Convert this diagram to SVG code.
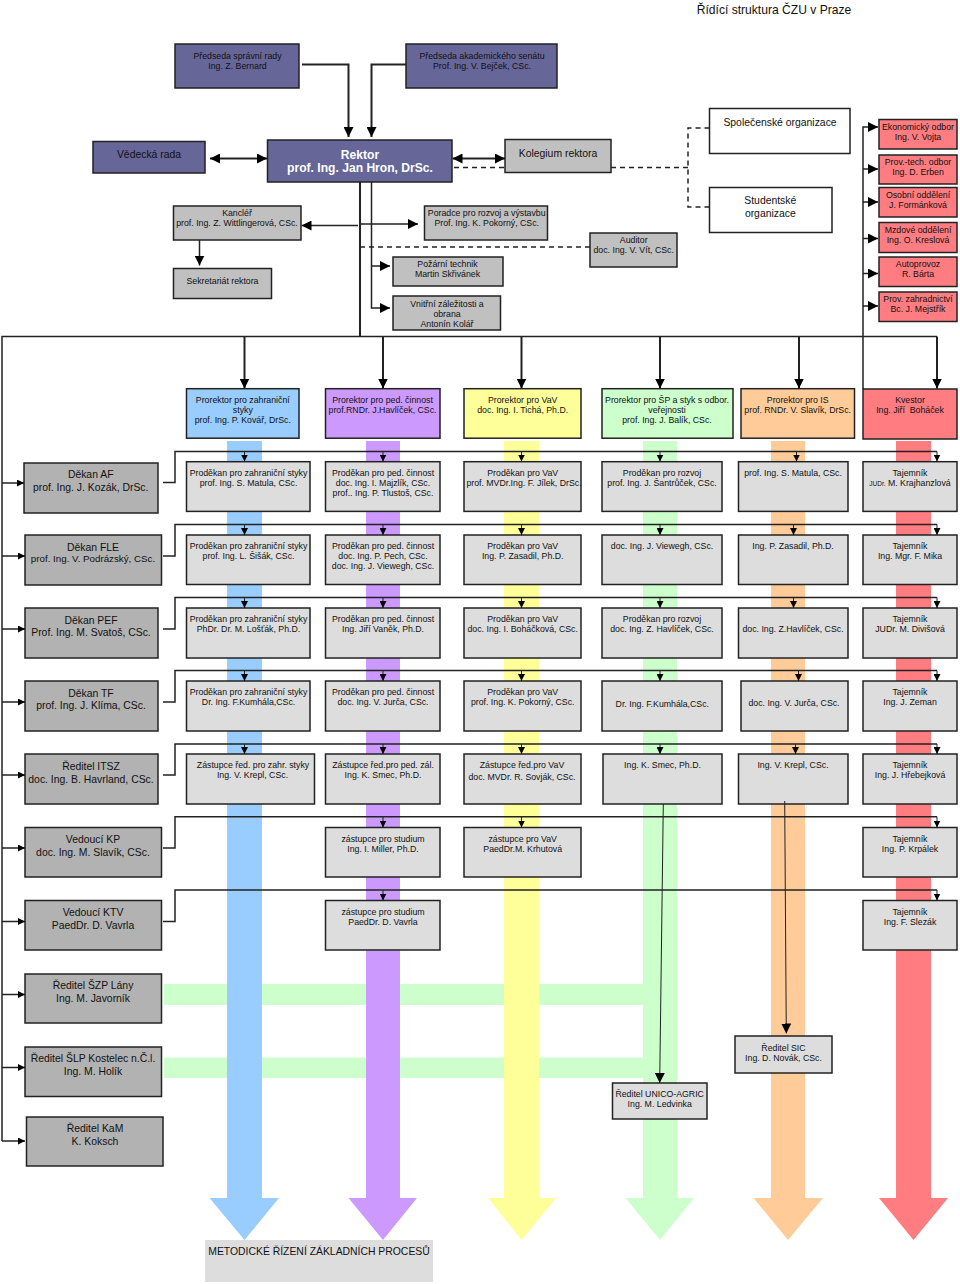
<svg xmlns="http://www.w3.org/2000/svg" width="960" height="1284" viewBox="0 0 960 1284">
<style>
text{font-family:"Liberation Sans",Arial,sans-serif;font-size:8.75px;fill:#111;text-anchor:middle}
.l{font-size:10.4px}
.m{font-size:9.75px}
.t{font-size:12.1px}
.w{font-size:12.1px;font-weight:bold;fill:#fff}
.j{font-size:6.5px}
rect{stroke:#222;stroke-width:1.5}
.navy{fill:#666699}.gray{fill:#c0c0c0}.white{fill:#fff}.red{fill:#ff7c80}.dean{fill:#b2b2b2}.cell{fill:#dddddd}
.blue{fill:#99ccff}.purple{fill:#cc99ff}.yellow{fill:#ffff99}.green{fill:#ccffcc}.orange{fill:#ffcc99}
.plain{fill:#dddddd;stroke:none}
.bar{stroke:none}
#connectors path,#connectors line{fill:none;stroke:#222;stroke-width:1.5}
#connectors .h{stroke-width:2}
#connectors .d{stroke-dasharray:5 4}
#connectors .n{stroke-width:1}
</style>
<defs>
<marker id="a" markerUnits="userSpaceOnUse" markerWidth="10" markerHeight="10" viewBox="0 0 10 10" refX="10" refY="5" orient="auto-start-reverse"><path d="M0 0L10 5L0 10Z" fill="#000"/></marker>
<marker id="s" markerUnits="userSpaceOnUse" markerWidth="7" markerHeight="7" viewBox="0 0 10 10" refX="10" refY="5" orient="auto"><path d="M0 0L10 5L0 10Z" fill="#000"/></marker>
</defs>
<rect width="960" height="1284" style="fill:#fff;stroke:none"/>
<text class="t" x="774" y="14">Řídící struktura ČZU v Praze</text>

<g id="process-bars">
<path class="bar green" d="M164 984H643V1005H164ZM164 1057.500H643V1078H164Z"/>
<path class="bar blue" d="M227 441H262V1198H279L244.500 1240L209.500 1198H227Z"/>
<path class="bar purple" d="M366 441H400V1198H417L383 1240L348.500 1198H366Z"/>
<path class="bar yellow" d="M504 441H539V1198H556L521.500 1240L488 1198H504Z"/>
<path class="bar green" d="M643 441H677V1198H694L660 1240L625.500 1198H643Z"/>
<path class="bar orange" d="M771 441H805V1198H823L788 1240L753.500 1198H771Z"/>
<path class="bar red" d="M896 441H931V1198H948L913.500 1240L879 1198H896Z"/>
</g>

<g id="n-predseda-sr"><rect class="navy" x="175" y="44" width="124" height="44"/><text x="237.500" y="59">Předseda správní rady</text><text x="237.500" y="69">Ing. Z. Bernard</text></g>
<g id="n-predseda-as"><rect class="navy" x="406" y="44" width="151" height="44"/><text x="482" y="59">Předseda akademického senátu</text><text x="482" y="69">Prof. Ing. V. Bejček, CSc.</text></g>
<g id="n-rektor"><rect class="navy" x="267.500" y="140" width="184.500" height="42"/><text class="w" x="360" y="158.700">Rektor</text><text class="w" x="360" y="172">prof. Ing. Jan Hron, DrSc.</text></g>
<g id="n-vedecka"><rect class="navy" x="93" y="141.500" width="112" height="31.500"/><text class="l" x="149" y="158.300">Vědecká rada</text></g>
<g id="n-kolegium"><rect class="gray" x="505" y="139.500" width="106" height="33"/><text class="l" x="558" y="156.700">Kolegium rektora</text></g>
<g id="n-kancler"><rect class="gray" x="173.500" y="206" width="127.500" height="34"/><text x="237" y="216">Kancléř</text><text x="237" y="226.300">prof. Ing. Z. Wittlingerová, CSc.</text></g>
<g id="n-sekretariat"><rect class="gray" x="173.500" y="268.500" width="98" height="30"/><text x="222.500" y="283.700">Sekretariát rektora</text></g>
<g id="n-poradce"><rect class="gray" x="424.500" y="206" width="123" height="34"/><text x="486.700" y="216">Poradce pro rozvoj a výstavbu</text><text x="486.700" y="226.300">Prof. Ing. K. Pokorný, CSc.</text></g>
<g id="n-pozarni"><rect class="gray" x="393" y="257" width="110" height="29"/><text x="447.500" y="267.300">Požární technik</text><text x="447.500" y="277">Martin Skřivánek</text></g>
<g id="n-vnitrni"><rect class="gray" x="393" y="296" width="107.500" height="34"/><text x="447" y="306.700">Vnitřní záležitosti a</text><text x="447" y="316.700">obrana</text><text x="447" y="326.700">Antonín Kolář</text></g>
<g id="n-auditor"><rect class="gray" x="590" y="233" width="87" height="34"/><text x="633.700" y="243.300">Auditor</text><text x="633.700" y="253.300">doc. Ing. V. Vít, CSc.</text></g>
<g id="n-spolecenske"><rect class="white" x="709.500" y="108.500" width="140.500" height="45"/><text class="l" x="780" y="126">Společenské organizace</text></g>
<g id="n-studentske"><rect class="white" x="709.500" y="187.500" width="122.500" height="45"/><text class="l" x="770.300" y="204.300">Studentské</text><text class="l" x="770.300" y="216.700">organizace</text></g>

<g id="n-ekonomicky"><rect class="red" x="879" y="119.500" width="78" height="29.500"/><text x="918" y="130">Ekonomický odbor</text><text x="918" y="140">Ing. V. Vojta</text></g>
<g id="n-provtech"><rect class="red" x="879" y="155" width="78" height="29"/><text x="918" y="165">Prov.-tech. odbor</text><text x="918" y="175">Ing. D. Erben</text></g>
<g id="n-osobni"><rect class="red" x="879" y="187.500" width="78" height="29.500"/><text x="918" y="197.700">Osobní oddělení</text><text x="918" y="207.700">J. Formánková</text></g>
<g id="n-mzdove"><rect class="red" x="879" y="222.500" width="78" height="30"/><text x="918" y="233.300">Mzdové oddělení</text><text x="918" y="243.300">Ing. O. Kreslová</text></g>
<g id="n-autoprovoz"><rect class="red" x="879" y="257" width="78" height="29.500"/><text x="918" y="267.300">Autoprovoz</text><text x="918" y="277.300">R. Bárta</text></g>
<g id="n-zahradnictvi"><rect class="red" x="879" y="292" width="78" height="29.500"/><text x="918" y="302">Prov. zahradnictví</text><text x="918" y="312">Bc. J. Mejstřík</text></g>

<g id="n-pr1"><rect class="blue" x="186.500" y="388.700" width="112.500" height="49.500"/><text x="242.800" y="402.700">Prorektor pro zahraniční</text><text x="242.800" y="412.700">styky</text><text x="242.800" y="422.700">prof. Ing. P. Kovář, DrSc.</text></g>
<g id="n-pr2"><rect class="purple" x="325.500" y="388.700" width="114.500" height="49.500"/><text x="382.500" y="402.700">Prorektor pro ped. činnost</text><text x="382.500" y="412.700">prof.RNDr. J.Havlíček, CSc.</text></g>
<g id="n-pr3"><rect class="yellow" x="464" y="388.700" width="117" height="49.500"/><text x="522.700" y="402.700">Prorektor pro VaV</text><text x="522.700" y="412.700">doc. Ing. I. Tichá, Ph.D.</text></g>
<g id="n-pr4"><rect class="green" x="602" y="388.700" width="131" height="49.500"/><text x="667" y="402.700">Prorektor pro ŠP a styk s odbor.</text><text x="667" y="412.700">veřejnosti</text><text x="667" y="422.700">prof. Ing. J. Balík, CSc.</text></g>
<g id="n-pr5"><rect class="orange" x="741" y="388.700" width="113.500" height="49.500"/><text x="797.700" y="402.700">Prorektor pro IS</text><text x="797.700" y="412.700">prof. RNDr. V. Slavík, DrSc.</text></g>
<g id="n-kvestor"><rect class="red" x="863" y="389" width="94" height="50"/><text x="910" y="402.700">Kvestor</text><text x="910" y="412.700" xml:space="preserve">Ing. Jiří  Boháček</text></g>

<g id="n-af"><rect class="dean" x="24" y="463" width="134" height="50"/><text class="l" x="90.700" y="478.300">Děkan AF</text><text class="l" x="90.700" y="491.300">prof. Ing. J. Kozák, DrSc.</text></g>
<g id="n-fle"><rect class="dean" x="25" y="535" width="136.500" height="50"/><text class="l" x="93" y="550.700">Děkan FLE</text><text class="m" x="93" y="562.300">prof. Ing. V. Podrázský, CSc.</text></g>
<g id="n-pef"><rect class="dean" x="25" y="608" width="133" height="50"/><text class="l" x="91" y="623.700">Děkan PEF</text><text class="l" x="91" y="636">Prof. Ing. M. Svatoš, CSc.</text></g>
<g id="n-tf"><rect class="dean" x="25" y="681" width="133" height="50"/><text class="l" x="91" y="696.700">Děkan TF</text><text class="l" x="91" y="709.300">prof. Ing. J. Klíma, CSc.</text></g>
<g id="n-itsz"><rect class="dean" x="25" y="754" width="133" height="50"/><text class="l" x="91" y="770">Ředitel ITSZ</text><text class="l" x="91" y="782.700">doc. Ing. B. Havrland, CSc.</text></g>
<g id="n-kp"><rect class="dean" x="25" y="827.500" width="136.500" height="49.500"/><text class="l" x="93" y="843">Vedoucí KP</text><text class="l" x="93" y="855.700">doc. Ing. M. Slavík, CSc.</text></g>
<g id="n-ktv"><rect class="dean" x="25" y="900.500" width="136.500" height="49.500"/><text class="l" x="93" y="916">Vedoucí KTV</text><text class="l" x="93" y="928.700">PaedDr. D. Vavrla</text></g>
<g id="n-szp"><rect class="dean" x="25" y="974" width="136.500" height="49"/><text class="l" x="93" y="989.300">Ředitel ŠZP Lány</text><text class="l" x="93" y="1002">Ing. M. Javorník</text></g>
<g id="n-slp"><rect class="dean" x="25" y="1047" width="136.500" height="49.500"/><text class="l" x="93" y="1062.300">Ředitel ŠLP Kostelec n.Č.l.</text><text class="l" x="93" y="1075">Ing. M. Holík</text></g>
<g id="n-kam"><rect class="dean" x="26.500" y="1117" width="136.500" height="49"/><text class="l" x="95" y="1132">Ředitel KaM</text><text class="l" x="95" y="1144.700">K. Koksch</text></g>

<g id="n-c11"><rect class="cell" x="186.500" y="461.700" width="123.500" height="49.700"/><text x="248.500" y="476">Proděkan pro zahraniční styky</text><text x="248.500" y="486">prof. Ing. S. Matula, CSc.</text></g>
<g id="n-c12"><rect class="cell" x="325.500" y="461.700" width="114.500" height="49.700"/><text x="383" y="476">Proděkan pro ped. činnost</text><text x="383" y="486">doc. Ing. I. Majzlík, CSc.</text><text x="383" y="496">prof.. Ing. P. Tlustoš, CSc.</text></g>
<g id="n-c13"><rect class="cell" x="464" y="461.700" width="117" height="49.700"/><text x="522.700" y="476">Proděkan pro VaV</text><text x="524" y="486">prof. MVDr.Ing. F. Jílek, DrSc.</text></g>
<g id="n-c14"><rect class="cell" x="602" y="461.700" width="120" height="49.700"/><text x="662" y="476">Proděkan pro rozvoj</text><text x="662" y="486">prof. Ing. J. Šantrůček, CSc.</text></g>
<g id="n-c15"><rect class="cell" x="738.500" y="461.700" width="109.500" height="49.700"/><text x="793" y="476">prof. Ing. S. Matula, CSc.</text></g>
<g id="n-c16"><rect class="cell" x="863" y="461.700" width="94" height="49.700"/><text x="910" y="476">Tajemník</text><text x="910" y="486"><tspan class="j">JUDr.</tspan> M. Krajhanzlová</text></g>

<g id="n-c21"><rect class="cell" x="186.500" y="535" width="123.500" height="49.500"/><text x="248.500" y="549">Proděkan pro zahraniční styky</text><text x="248.500" y="559">prof. Ing. L. Šišák, CSc.</text></g>
<g id="n-c22"><rect class="cell" x="325.500" y="535" width="114.500" height="49.500"/><text x="383" y="549">Proděkan pro ped. činnost</text><text x="383" y="559">doc. Ing. P. Pech, CSc.</text><text x="383" y="569">doc. Ing. J. Viewegh, CSc.</text></g>
<g id="n-c23"><rect class="cell" x="464" y="535" width="117" height="49.500"/><text x="522.700" y="549">Proděkan pro VaV</text><text x="522.700" y="559">Ing. P. Zasadil, Ph.D.</text></g>
<g id="n-c24"><rect class="cell" x="602" y="535" width="120" height="49.500"/><text x="662" y="549">doc. Ing. J. Viewegh, CSc.</text></g>
<g id="n-c25"><rect class="cell" x="738.500" y="535" width="109.500" height="49.500"/><text x="793" y="549">Ing. P. Zasadil, Ph.D.</text></g>
<g id="n-c26"><rect class="cell" x="863" y="535" width="94" height="49.500"/><text x="910" y="549">Tajemník</text><text x="910" y="559">Ing. Mgr. F. Mika</text></g>

<g id="n-c31"><rect class="cell" x="186.500" y="608" width="123.500" height="50"/><text x="248.500" y="622">Proděkan pro zahraniční styky</text><text x="248.500" y="632">PhDr. Dr. M. Lošťák, Ph.D.</text></g>
<g id="n-c32"><rect class="cell" x="325.500" y="608" width="114.500" height="50"/><text x="383" y="622">Proděkan pro ped. činnost</text><text x="383" y="632">Ing. Jiří Vaněk, Ph.D.</text></g>
<g id="n-c33"><rect class="cell" x="464" y="608" width="117" height="50"/><text x="522.700" y="622">Proděkan pro VaV</text><text x="522.700" y="632">doc. Ing. I. Boháčková, CSc.</text></g>
<g id="n-c34"><rect class="cell" x="602" y="608" width="120" height="50"/><text x="662" y="622">Proděkan pro rozvoj</text><text x="662" y="632">doc. Ing. Z. Havlíček, CSc.</text></g>
<g id="n-c35"><rect class="cell" x="738.500" y="608" width="109.500" height="50"/><text x="793" y="632">doc. Ing. Z.Havlíček, CSc.</text></g>
<g id="n-c36"><rect class="cell" x="863" y="608" width="94" height="50"/><text x="910" y="622">Tajemník</text><text x="910" y="632">JUDr. M. Divišová</text></g>

<g id="n-c41"><rect class="cell" x="186.500" y="681" width="123.500" height="50"/><text x="248.500" y="695">Proděkan pro zahraniční styky</text><text x="248.500" y="705">Dr. Ing. F.Kumhála,CSc.</text></g>
<g id="n-c42"><rect class="cell" x="325.500" y="681" width="114.500" height="50"/><text x="383" y="695">Proděkan pro ped. činnost</text><text x="383" y="705">doc. Ing. V. Jurča, CSc.</text></g>
<g id="n-c43"><rect class="cell" x="464" y="681" width="117" height="50"/><text x="522.700" y="695">Proděkan pro VaV</text><text x="522.700" y="705">prof. Ing. K. Pokorný, CSc.</text></g>
<g id="n-c44"><rect class="cell" x="602" y="681" width="120" height="50"/><text x="662.300" y="707.300">Dr. Ing. F.Kumhála,CSc.</text></g>
<g id="n-c45"><rect class="cell" x="741" y="681" width="107" height="50"/><text x="794" y="705.700">doc. Ing. V. Jurča, CSc.</text></g>
<g id="n-c46"><rect class="cell" x="863" y="681" width="94" height="50"/><text x="910" y="695">Tajemník</text><text x="910" y="705">Ing. J. Zeman</text></g>

<g id="n-c51"><rect class="cell" x="186.500" y="754" width="128" height="50"/><text x="253" y="768">Zástupce řed. pro zahr. styky</text><text x="252.500" y="778">Ing. V. Krepl, CSc.</text></g>
<g id="n-c52"><rect class="cell" x="325.500" y="754" width="114.500" height="50"/><text x="383" y="768">Zástupce řed.pro ped. zál.</text><text x="383" y="778">Ing. K. Smec, Ph.D.</text></g>
<g id="n-c53"><rect class="cell" x="464" y="754" width="117" height="50"/><text x="522" y="768">Zástupce řed.pro VaV</text><text x="522" y="780">doc. MVDr. R. Sovják, CSc.</text></g>
<g id="n-c54"><rect class="cell" x="603" y="754" width="119" height="50"/><text x="662.500" y="768">Ing. K. Smec, Ph.D.</text></g>
<g id="n-c55"><rect class="cell" x="738.500" y="754" width="109.500" height="50"/><text x="793" y="768">Ing. V. Krepl, CSc.</text></g>
<g id="n-c56"><rect class="cell" x="863" y="754" width="94" height="50"/><text x="910" y="768">Tajemník</text><text x="910" y="778">Ing. J. Hřebejková</text></g>

<g id="n-c62"><rect class="cell" x="325.500" y="827.500" width="114.500" height="49.500"/><text x="383" y="841.700">zástupce pro studium</text><text x="383" y="851.500">Ing. I. Miller, Ph.D.</text></g>
<g id="n-c63"><rect class="cell" x="464" y="827.500" width="117" height="49.500"/><text x="522.700" y="841.700">zástupce pro VaV</text><text x="522.700" y="851.500">PaedDr.M. Krhutová</text></g>
<g id="n-c66"><rect class="cell" x="863" y="827.500" width="94" height="49.500"/><text x="910" y="841.700">Tajemník</text><text x="910" y="851.500">Ing. P. Krpálek</text></g>
<g id="n-c72"><rect class="cell" x="325.500" y="900.500" width="114.500" height="49.500"/><text x="383" y="914.500">zástupce pro studium</text><text x="383" y="924.500">PaedDr. D. Vavrla</text></g>
<g id="n-c76"><rect class="cell" x="863" y="900.500" width="94" height="49.500"/><text x="910" y="914.500">Tajemník</text><text x="910" y="924.500">Ing. F. Slezák</text></g>

<g id="n-unico"><rect class="cell" x="612.500" y="1083" width="94.500" height="36"/><text x="659.700" y="1097">Ředitel UNICO-AGRIC</text><text x="659.700" y="1107">Ing. M. Ledvinka</text></g>
<g id="n-sic"><rect class="cell" x="735" y="1036" width="97" height="37"/><text x="783.500" y="1050.500">Ředitel SIC</text><text x="783.500" y="1060.500">Ing. D. Novák, CSc.</text></g>
<g id="n-metodicke"><rect class="plain" x="205" y="1240" width="228" height="42"/><text class="l" x="319" y="1255.300">METODICKÉ ŘÍZENÍ ZÁKLADNÍCH PROCESŮ</text></g>

<g id="connectors">
<path class="h" d="M302 64.500H348.500V137" marker-end="url(#a)"/>
<path class="h" d="M406 64.500H371.500V137" marker-end="url(#a)"/>
<line class="h" x1="210" y1="158.500" x2="267" y2="158.500" marker-start="url(#a)" marker-end="url(#a)"/>
<line class="h" x1="452.500" y1="158.500" x2="505" y2="158.500" marker-start="url(#a)" marker-end="url(#a)"/>
<path class="d" d="M454 167.500H505M611 167.500H688M709.500 128H688V207H709.500"/>
<path class="d" d="M360 247H593"/>
<line class="h" x1="360" y1="182" x2="360" y2="336"/>
<path d="M371.500 182V308H390" marker-end="url(#a)"/>
<line x1="371.500" y1="266" x2="390" y2="266" marker-end="url(#a)"/>
<line x1="358" y1="225.500" x2="301.500" y2="225.500" marker-end="url(#a)"/>
<line x1="360" y1="224" x2="418" y2="224" marker-end="url(#a)"/>
<line x1="199.500" y1="240" x2="199.500" y2="265.500" marker-end="url(#a)"/>
<path d="M863 389V127H878" marker-end="url(#a)"/>
<line x1="863" y1="169" x2="878" y2="169" marker-end="url(#a)"/>
<line x1="863" y1="202" x2="878" y2="202" marker-end="url(#a)"/>
<line x1="863" y1="238.500" x2="878" y2="238.500" marker-end="url(#a)"/>
<line x1="863" y1="273.500" x2="878" y2="273.500" marker-end="url(#a)"/>
<line x1="863" y1="306" x2="878" y2="306" marker-end="url(#a)"/>
<path d="M2 1141V336.500H937"/>
<line class="h" x1="244.500" y1="336.500" x2="244.500" y2="388.500" marker-end="url(#a)"/>
<line class="h" x1="383" y1="336.500" x2="383" y2="388.500" marker-end="url(#a)"/>
<line class="h" x1="521.500" y1="336.500" x2="521.500" y2="388.500" marker-end="url(#a)"/>
<line class="h" x1="660" y1="336.500" x2="660" y2="388.500" marker-end="url(#a)"/>
<line class="h" x1="799" y1="336.500" x2="799" y2="388.500" marker-end="url(#a)"/>
<line class="h" x1="937" y1="336.500" x2="937" y2="388.500" marker-end="url(#a)"/>
<path d="M2 483H24" marker-end="url(#s)"/><path d="M2 556H25" marker-end="url(#s)"/><path d="M2 629H25" marker-end="url(#s)"/><path d="M2 702H25" marker-end="url(#s)"/><path d="M2 775H25" marker-end="url(#s)"/><path d="M2 848H25" marker-end="url(#s)"/><path d="M2 921.500H25" marker-end="url(#s)"/><path d="M2 994.500H25" marker-end="url(#s)"/><path d="M2 1067.500H25" marker-end="url(#s)"/><path d="M2 1141H25" marker-end="url(#s)"/>
<path d="M163 482.500H175V451.500H937"/>
<path d="M163 556H175V524.500H937"/>
<path d="M163 629H175V597.500H937"/>
<path d="M163 702H175V670.500H937"/>
<path d="M163 775H175V744H937"/>
<path d="M163 848H175V816.700H937"/>
<path d="M163 921.500H175V890H937"/>
<path class="n" d="M244.500 451.500V461.500" marker-end="url(#s)"/><path class="n" d="M383 451.500V461.500" marker-end="url(#s)"/><path class="n" d="M521.500 451.500V461.500" marker-end="url(#s)"/><path class="n" d="M660 451.500V461.500" marker-end="url(#s)"/><path class="n" d="M796.500 451.500V461.500" marker-end="url(#s)"/><path class="n" d="M937 451.500V461.500" marker-end="url(#s)"/>
<path class="n" d="M244.500 524.500V535" marker-end="url(#s)"/><path class="n" d="M383 524.500V535" marker-end="url(#s)"/><path class="n" d="M521.500 524.500V535" marker-end="url(#s)"/><path class="n" d="M660 524.500V535" marker-end="url(#s)"/><path class="n" d="M793.500 524.500V535" marker-end="url(#s)"/><path class="n" d="M937 524.500V535" marker-end="url(#s)"/>
<path class="n" d="M244.500 597.500V608" marker-end="url(#s)"/><path class="n" d="M383 597.500V608" marker-end="url(#s)"/><path class="n" d="M521.500 597.500V608" marker-end="url(#s)"/><path class="n" d="M660 597.500V608" marker-end="url(#s)"/><path class="n" d="M793.500 597.500V608" marker-end="url(#s)"/><path class="n" d="M937 597.500V608" marker-end="url(#s)"/>
<path class="n" d="M244.500 670.500V681" marker-end="url(#s)"/><path class="n" d="M383 670.500V681" marker-end="url(#s)"/><path class="n" d="M521.500 670.500V681" marker-end="url(#s)"/><path class="n" d="M660 670.500V681" marker-end="url(#s)"/><path class="n" d="M798.500 670.500V681" marker-end="url(#s)"/><path class="n" d="M937 670.500V681" marker-end="url(#s)"/>
<path class="n" d="M244.500 744V754" marker-end="url(#s)"/><path class="n" d="M383 744V754" marker-end="url(#s)"/><path class="n" d="M521.500 744V754" marker-end="url(#s)"/><path class="n" d="M660 744V754" marker-end="url(#s)"/><path class="n" d="M795.500 744V754" marker-end="url(#s)"/><path class="n" d="M937 744V754" marker-end="url(#s)"/>
<path class="n" d="M383 816.700V827.500" marker-end="url(#s)"/><path class="n" d="M521.500 816.700V827.500" marker-end="url(#s)"/><path class="n" d="M937 816.700V827.500" marker-end="url(#s)"/>
<path class="n" d="M383 890V900.500" marker-end="url(#s)"/><path class="n" d="M937 890V900.500" marker-end="url(#s)"/>
<line class="n" x1="663.300" y1="804" x2="659.700" y2="1083" marker-end="url(#a)"/>
<line class="n" x1="784.700" y1="801" x2="786.300" y2="1033.500" marker-end="url(#a)"/>
</g>
</svg>
